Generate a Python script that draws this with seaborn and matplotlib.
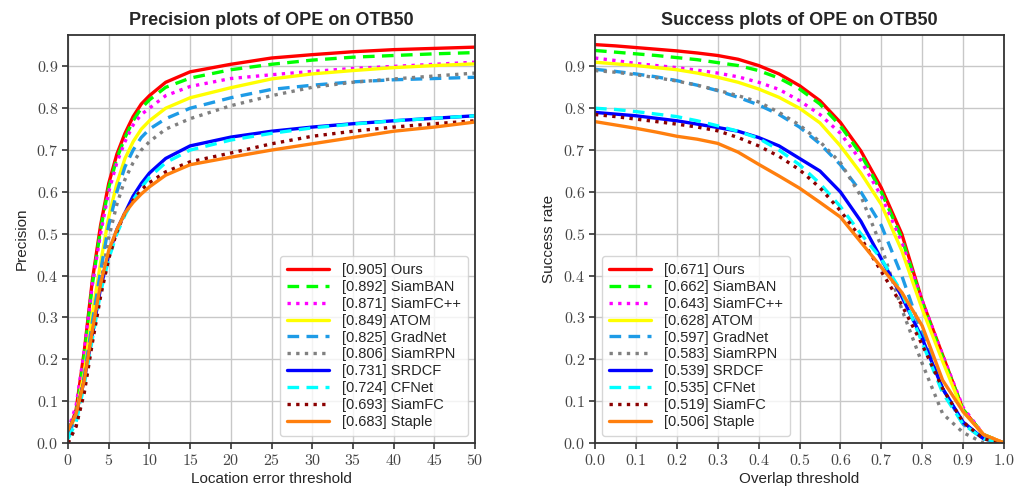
import numpy as np
import pandas as pd
import matplotlib
matplotlib.use("Agg")
import matplotlib.pyplot as plt
import seaborn as sns
from matplotlib.ticker import FuncFormatter, MultipleLocator

# ---------------- data ----------------
trackers = ["Ours", "SiamBAN", "SiamFC++", "ATOM", "GradNet", "SiamRPN",
            "SRDCF", "CFNet", "SiamFC", "Staple"]
prec_scores = [0.905, 0.892, 0.871, 0.849, 0.825, 0.806, 0.731, 0.724, 0.693, 0.683]
succ_scores = [0.671, 0.662, 0.643, 0.628, 0.597, 0.583, 0.539, 0.535, 0.519, 0.506]

prec_x = [0, 1, 2, 3, 4, 5, 6, 7, 8, 9, 10, 12, 15, 20, 25, 30, 35, 40, 45, 50]
prec_ours     = [0.02, 0.08, 0.22, 0.39, 0.52, 0.62, 0.69, 0.74, 0.78, 0.81, 0.83, 0.862, 0.887, 0.905, 0.92, 0.928, 0.935, 0.94, 0.943, 0.946]
prec_siamban  = [0.02, 0.07, 0.21, 0.38, 0.51, 0.61, 0.68, 0.73, 0.77, 0.80, 0.82, 0.85, 0.872, 0.892, 0.905, 0.915, 0.922, 0.926, 0.93, 0.933]
prec_siamfcpp = [0.03, 0.09, 0.22, 0.38, 0.50, 0.60, 0.67, 0.72, 0.76, 0.785, 0.80, 0.83, 0.852, 0.871, 0.88, 0.888, 0.895, 0.90, 0.905, 0.91]
prec_atom     = [0.02, 0.07, 0.17, 0.31, 0.43, 0.54, 0.62, 0.68, 0.72, 0.75, 0.77, 0.80, 0.825, 0.849, 0.87, 0.882, 0.89, 0.897, 0.902, 0.906]
prec_gradnet  = [0.02, 0.06, 0.16, 0.29, 0.41, 0.52, 0.60, 0.66, 0.70, 0.73, 0.75, 0.775, 0.80, 0.825, 0.845, 0.855, 0.863, 0.868, 0.871, 0.874]
prec_siamrpn  = [0.0, 0.04, 0.13, 0.26, 0.38, 0.49, 0.57, 0.63, 0.67, 0.70, 0.72, 0.75, 0.775, 0.806, 0.83, 0.85, 0.862, 0.87, 0.877, 0.884]
prec_srdcf    = [0.03, 0.07, 0.15, 0.26, 0.37, 0.45, 0.51, 0.55, 0.59, 0.62, 0.645, 0.68, 0.71, 0.731, 0.745, 0.755, 0.763, 0.77, 0.776, 0.782]
prec_cfnet    = [0.01, 0.05, 0.14, 0.25, 0.36, 0.44, 0.50, 0.545, 0.58, 0.61, 0.635, 0.67, 0.70, 0.724, 0.74, 0.753, 0.762, 0.77, 0.776, 0.782]
prec_siamfc   = [0.0, 0.04, 0.12, 0.24, 0.35, 0.44, 0.505, 0.55, 0.58, 0.605, 0.622, 0.648, 0.672, 0.693, 0.715, 0.733, 0.745, 0.755, 0.763, 0.77]
prec_staple   = [0.03, 0.07, 0.15, 0.27, 0.38, 0.46, 0.51, 0.55, 0.575, 0.595, 0.612, 0.64, 0.665, 0.683, 0.70, 0.715, 0.73, 0.745, 0.755, 0.767]

succ_x = [0.0, 0.05, 0.1, 0.15, 0.2, 0.25, 0.3, 0.35, 0.4, 0.45, 0.5, 0.55, 0.6, 0.65, 0.7, 0.75, 0.8, 0.85, 0.9, 0.95, 1.0]
succ_ours     = [0.952, 0.949, 0.945, 0.941, 0.937, 0.932, 0.926, 0.917, 0.902, 0.882, 0.854, 0.818, 0.766, 0.698, 0.61, 0.50, 0.34, 0.21, 0.08, 0.02, 0.0]
succ_siamban  = [0.938, 0.934, 0.93, 0.926, 0.921, 0.916, 0.909, 0.902, 0.89, 0.872, 0.846, 0.81, 0.758, 0.69, 0.60, 0.49, 0.335, 0.205, 0.08, 0.02, 0.0]
succ_siamfcpp = [0.92, 0.914, 0.907, 0.902, 0.897, 0.891, 0.884, 0.875, 0.862, 0.845, 0.818, 0.785, 0.74, 0.675, 0.59, 0.48, 0.34, 0.21, 0.085, 0.02, 0.0]
succ_atom     = [0.91, 0.906, 0.902, 0.897, 0.892, 0.884, 0.874, 0.862, 0.846, 0.826, 0.80, 0.765, 0.71, 0.645, 0.57, 0.46, 0.32, 0.195, 0.075, 0.02, 0.0]
succ_gradnet  = [0.893, 0.888, 0.882, 0.875, 0.866, 0.855, 0.842, 0.826, 0.808, 0.785, 0.755, 0.715, 0.665, 0.60, 0.52, 0.40, 0.26, 0.13, 0.045, 0.01, 0.0]
succ_siamrpn  = [0.89, 0.886, 0.88, 0.873, 0.865, 0.855, 0.843, 0.83, 0.815, 0.79, 0.76, 0.72, 0.67, 0.59, 0.47, 0.32, 0.19, 0.07, 0.025, 0.0, 0.0]
succ_srdcf    = [0.79, 0.786, 0.782, 0.776, 0.77, 0.762, 0.754, 0.745, 0.73, 0.71, 0.68, 0.65, 0.60, 0.53, 0.44, 0.35, 0.25, 0.13, 0.05, 0.01, 0.0]
succ_cfnet    = [0.80, 0.797, 0.792, 0.786, 0.78, 0.77, 0.758, 0.745, 0.728, 0.70, 0.665, 0.62, 0.565, 0.50, 0.44, 0.36, 0.24, 0.12, 0.045, 0.01, 0.0]
succ_siamfc   = [0.785, 0.78, 0.774, 0.768, 0.762, 0.755, 0.746, 0.73, 0.71, 0.685, 0.653, 0.61, 0.555, 0.49, 0.41, 0.33, 0.235, 0.13, 0.05, 0.01, 0.0]
succ_staple   = [0.768, 0.76, 0.752, 0.743, 0.733, 0.726, 0.716, 0.695, 0.666, 0.638, 0.609, 0.575, 0.54, 0.48, 0.42, 0.36, 0.28, 0.15, 0.075, 0.02, 0.0]

prec_series = [prec_ours, prec_siamban, prec_siamfcpp, prec_atom, prec_gradnet,
               prec_siamrpn, prec_srdcf, prec_cfnet, prec_siamfc, prec_staple]
succ_series = [succ_ours, succ_siamban, succ_siamfcpp, succ_atom, succ_gradnet,
               succ_siamrpn, succ_srdcf, succ_cfnet, succ_siamfc, succ_staple]

colors = ["#ff0000", "#00ff00", "#ff00ff", "#ffff00", "#1e9be6",
          "#808080", "#0000ff", "#00ffff", "#8b0000", "#ff7f0e"]
styles = ["-", (0, (3.5, 2.2)), (0, (1, 1.6)), "-", (0, (3.5, 2.2)),
          (0, (1, 1.6)), "-", (0, (3.5, 2.2)), (0, (1, 1.6)), "-"]

# ---------------- style ----------------
sns.set_theme(style="whitegrid")
plt.rcParams["font.family"] = ["Liberation Sans", "DejaVu Sans"]
plt.rcParams["mathtext.fontset"] = "cm"

fig = plt.figure(figsize=(10.24, 4.88), dpi=100)
ax1 = fig.add_axes([68 / 1024, 45 / 488, 407 / 1024, 408 / 488])
ax2 = fig.add_axes([595 / 1024, 45 / 488, 409 / 1024, 408 / 488])


def build(ax, xs, series, scores, xlim, xstep, fmt, title, xlabel, ylabel, loc):
    for name, ys, sc, c, ls in zip(trackers, series, scores, colors, styles):
        df = pd.DataFrame({"x": xs, "y": ys})
        sns.lineplot(data=df, x="x", y="y", ax=ax, color=c, linestyle=ls,
                     linewidth=2.4, label=f"[{sc:.3f}] {name}")
    ax.set_xlim(*xlim)
    ax.set_ylim(0, 0.975)
    ax.xaxis.set_major_locator(MultipleLocator(xstep))
    ax.yaxis.set_major_locator(MultipleLocator(0.1))
    ax.xaxis.set_major_formatter(FuncFormatter(lambda v, p: "$" + fmt.format(v) + "$"))
    ax.yaxis.set_major_formatter(FuncFormatter(lambda v, p: "${:.1f}$".format(v)))
    ax.grid(True, color="#c8c8c8", linewidth=1.0)
    for s in ax.spines.values():
        s.set_color("#333333")
        s.set_linewidth(1.3)
    ax.tick_params(axis="both", which="major", direction="out", length=4,
                   width=1.2, color="#333333", labelsize=11.5, labelcolor="#444444",
                   bottom=True, left=True, pad=3)
    ax.set_title(title, fontsize=13, fontweight="bold", pad=7)
    ax.set_xlabel(xlabel, fontsize=11, labelpad=3)
    ax.set_ylabel(ylabel, fontsize=11, labelpad=5)
    leg = ax.legend(loc=loc, fontsize=10.5, labelspacing=0.2, handlelength=2.9,
                    handletextpad=0.9, borderpad=0.45, framealpha=0.8,
                    edgecolor="#cccccc", fancybox=True)
    for h in leg.get_lines():
        h.set_linewidth(2.4)


build(ax1, prec_x, prec_series, prec_scores, (0, 50), 5, "{:.0f}",
      "Precision plots of OPE on OTB50", "Location error threshold", "Precision",
      "lower right")
build(ax2, succ_x, succ_series, succ_scores, (0, 1), 0.1, "{:.1f}",
      "Success plots of OPE on OTB50", "Overlap threshold", "Success rate",
      "lower left")

fig.savefig("out.png", dpi=100, facecolor="white")
